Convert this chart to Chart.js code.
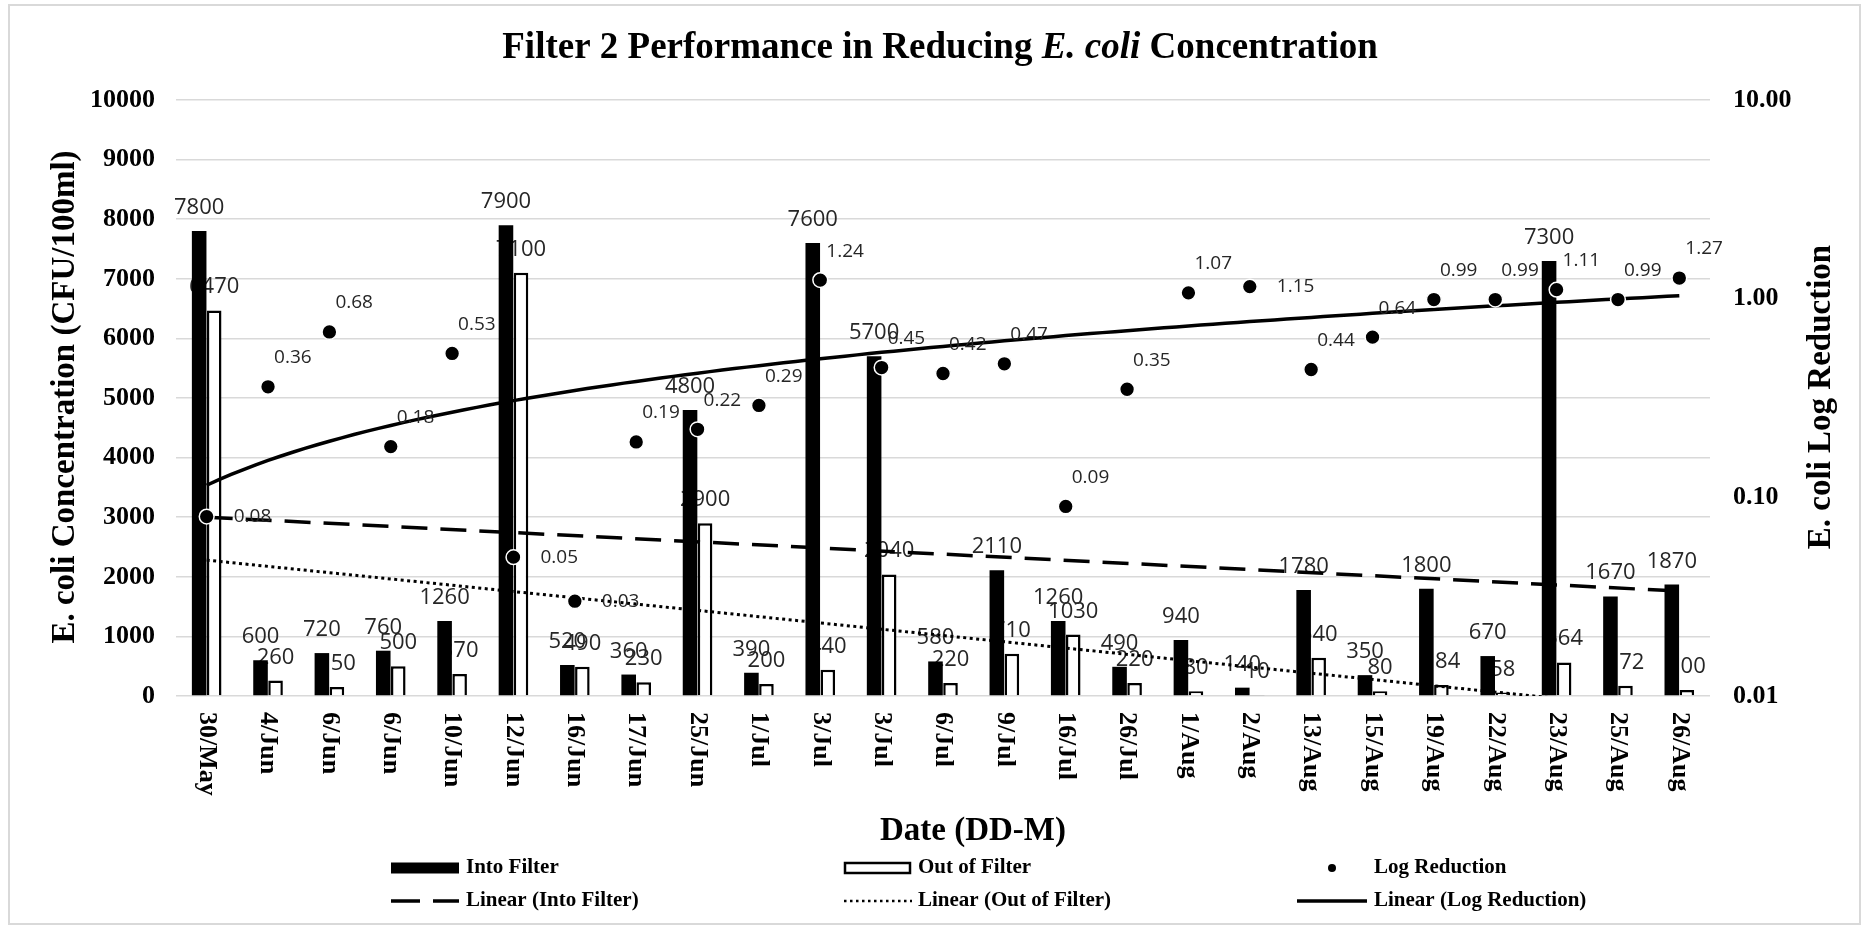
<!DOCTYPE html>
<html lang="en">
<head>
    <meta charset="UTF-8">
    <title>Filter 2 Performance in Reducing E. coli Concentration</title>
    <script src="https://cdn.jsdelivr.net/npm/chart.js@4.4.1/dist/chart.umd.min.js"></script>
    <style>
        html, body { margin: 0; padding: 0; background: #fff; }
    </style>
</head>
<body>
<canvas id="myChart" width="1870" height="930"></canvas>

<script>
    var dates = ['30/May', '4/Jun', '6/Jun', '6/Jun', '10/Jun', '12/Jun', '16/Jun', '17/Jun', '25/Jun', '1/Jul',
        '3/Jul', '3/Jul', '6/Jul', '9/Jul', '16/Jul', '26/Jul', '1/Aug', '2/Aug', '13/Aug', '15/Aug',
        '19/Aug', '22/Aug', '23/Aug', '25/Aug', '26/Aug'];
    var intoFilter = [7800, 600, 720, 760, 1260, 7900, 520, 360, 4800, 390,
        7600, 5700, 580, 2110, 1260, 490, 940, 140, 1780, 350,
        1800, 670, 7300, 1670, 1870];
    var outOfFilter = [6470, 260, 150, 500, 370, 7100, 490, 230, 2900, 200,
        440, 2040, 220, 710, 1030, 220, 80, 10, 640, 80,
        184, 58, 564, 172, 100];
    var logReduction = [0.08, 0.36, 0.68, 0.18, 0.53, 0.05, 0.03, 0.19, 0.22, 0.29,
        1.24, 0.45, 0.42, 0.47, 0.09, 0.35, 1.07, 1.15, 0.44, 0.64,
        0.99, 0.99, 1.11, 0.99, 1.27];
    // trendline values at the first and the last date
    var intoTrend = [3000, 1760];
    var outTrend = [2280, -250];
    var logTrend = [0.115, 1.035];
    var logTicks = [0.01, 0.1, 1, 10];

    // log labels that sit to the right of the dot instead of above it
    var rightLabels = [0, 5, 6, 17];

    var SERIF = '"Liberation Serif", "Times New Roman", serif';
    var SANS = '"Open Sans", "Noto Sans", sans-serif';

    function ends(pair) {
        return dates.map(function (d, i) {
            if (i === 0) return pair[0];
            if (i === dates.length - 1) return pair[1];
            return null;
        });
    }

    var extras = {
        id: 'extras',
        beforeDraw: function (chart) {
            var ctx = chart.ctx;
            ctx.save();
            ctx.fillStyle = '#fff';
            ctx.fillRect(0, 0, chart.width, chart.height);
            ctx.strokeStyle = '#d9d9d9';
            ctx.lineWidth = 2;
            ctx.strokeRect(9, 5, 1851, 919);
            ctx.restore();
        },
        beforeDatasetDraw: function (chart, args) {
            if (args.index !== 2) return;
            // linear trend of log reduction, drawn on the log axis
            var ctx = chart.ctx, xs = chart.scales.x, ys = chart.scales.y2, a = chart.chartArea;
            var x0 = xs.getPixelForValue(0), x1 = xs.getPixelForValue(dates.length - 1);
            ctx.save();
            ctx.beginPath();
            ctx.rect(a.left, a.top, a.width, a.height);
            ctx.clip();
            ctx.beginPath();
            for (var s = 0; s <= 120; s++) {
                var t = s / 120;
                var px = x0 + (x1 - x0) * t;
                var py = ys.getPixelForValue(logTrend[0] + (logTrend[1] - logTrend[0]) * t);
                if (s === 0) ctx.moveTo(px, py); else ctx.lineTo(px, py);
            }
            ctx.lineWidth = 3.5;
            ctx.strokeStyle = '#000';
            ctx.stroke();
            ctx.restore();
        },
        afterDatasetDraw: function (chart, args) {
            var ctx = chart.ctx, meta = args.meta;
            ctx.save();
            ctx.fillStyle = '#262626';
            if (args.index === 0 || args.index === 1) {
                var vals = args.index === 0 ? intoFilter : outOfFilter;
                ctx.font = '22px ' + SANS;
                ctx.textAlign = 'center';
                ctx.textBaseline = 'alphabetic';
                meta.data.forEach(function (el, i) {
                    ctx.fillText(String(vals[i]), el.x, el.y - 17);
                });
            } else if (args.index === 2) {
                ctx.font = '19px ' + SANS;
                ctx.textAlign = 'left';
                ctx.textBaseline = 'middle';
                meta.data.forEach(function (el, i) {
                    var txt = logReduction[i].toFixed(2);
                    if (rightLabels.indexOf(i) >= 0) ctx.fillText(txt, el.x + 27, el.y);
                    else ctx.fillText(txt, el.x + 6, el.y - 29);
                });
            }
            ctx.restore();
        },
        afterDraw: function (chart) {
            var ctx = chart.ctx, a = chart.chartArea, xs = chart.scales.x;
            ctx.save();
            ctx.fillStyle = '#000';

            // title with italic E. coli
            var parts = [['Filter 2 Performance in Reducing ', 'bold'], ['E. coli', 'italic bold'], [' Concentration', 'bold']];
            var total = 0;
            parts.forEach(function (p) { ctx.font = p[1] + ' 37px ' + SERIF; p.push(ctx.measureText(p[0]).width); total += p[2]; });
            var tx = 940 - total / 2;
            ctx.textAlign = 'left';
            ctx.textBaseline = 'middle';
            parts.forEach(function (p) { ctx.font = p[1] + ' 37px ' + SERIF; ctx.fillText(p[0], tx, 48); tx += p[2]; });

            // axis titles
            ctx.font = 'bold 33px ' + SERIF;
            ctx.textAlign = 'center';
            [[65, 'E. coli Concentration (CFU/100ml)'], [1821, 'E. coli Log Reduction']].forEach(function (t) {
                ctx.save();
                ctx.translate(t[0], 397);
                ctx.rotate(-Math.PI / 2);
                ctx.fillText(t[1], 0, 0);
                ctx.restore();
            });
            ctx.fillText('Date (DD-M)', 973, 831);

            // date labels, rotated clockwise
            ctx.font = 'bold 26px ' + SERIF;
            ctx.textAlign = 'left';
            dates.forEach(function (d, i) {
                ctx.save();
                ctx.translate(xs.getPixelForValue(i), a.bottom + 16);
                ctx.rotate(Math.PI / 2);
                ctx.fillText(d, 0, 0);
                ctx.restore();
            });

            // legend
            var r1 = 868, r2 = 901;
            ctx.fillRect(391, r1 - 5.5, 68, 11);
            ctx.fillStyle = '#fff';
            ctx.strokeStyle = '#000';
            ctx.lineWidth = 2.5;
            ctx.fillRect(845, r1 - 5, 65, 10);
            ctx.strokeRect(845, r1 - 5, 65, 10);
            ctx.fillStyle = '#000';
            ctx.beginPath();
            ctx.arc(1332, r1, 4, 0, Math.PI * 2);
            ctx.fill();

            ctx.lineWidth = 3.5;
            ctx.setLineDash([29, 13]);
            ctx.beginPath(); ctx.moveTo(391, r2); ctx.lineTo(459, r2); ctx.stroke();
            ctx.lineWidth = 2.5;
            ctx.setLineDash([2.5, 3.5]);
            ctx.beginPath(); ctx.moveTo(844, r2); ctx.lineTo(912, r2); ctx.stroke();
            ctx.lineWidth = 3.5;
            ctx.setLineDash([]);
            ctx.beginPath(); ctx.moveTo(1297, r2); ctx.lineTo(1367, r2); ctx.stroke();

            ctx.font = 'bold 21px ' + SERIF;
            ctx.textBaseline = 'middle';
            ctx.fillText(chart.data.datasets[0].label, 466, r1);
            ctx.fillText(chart.data.datasets[1].label, 918, r1);
            ctx.fillText(chart.data.datasets[2].label, 1374, r1);
            ctx.fillText(chart.data.datasets[3].label, 466, r2);
            ctx.fillText(chart.data.datasets[4].label, 918, r2);
            ctx.fillText('Linear (Log Reduction)', 1374, r2);
            ctx.restore();
        }
    };

    var ctx = document.getElementById('myChart').getContext('2d');
    var myChart = new Chart(ctx, {
        type: 'bar',
        data: {
            labels: dates,
            datasets: [
                {
                    label: 'Into Filter',
                    data: intoFilter,
                    backgroundColor: '#000',
                    borderWidth: 0,
                    categoryPercentage: 0.49,
                    barPercentage: 0.97,
                    order: 5
                },
                {
                    label: 'Out of Filter',
                    data: outOfFilter,
                    backgroundColor: '#fff',
                    borderColor: '#000',
                    borderWidth: 2.5,
                    categoryPercentage: 0.49,
                    barPercentage: 0.97,
                    order: 6
                },
                {
                    type: 'line',
                    label: 'Log Reduction',
                    data: logReduction,
                    yAxisID: 'y2',
                    showLine: false,
                    pointRadius: 7.4,
                    pointBackgroundColor: '#000',
                    pointBorderColor: '#fff',
                    pointBorderWidth: 1.5,
                    order: 1
                },
                {
                    type: 'line',
                    label: 'Linear (Into Filter)',
                    data: ends(intoTrend),
                    spanGaps: true,
                    borderColor: '#000',
                    borderWidth: 3.5,
                    borderDash: [26, 13],
                    pointRadius: 0,
                    order: 3
                },
                {
                    type: 'line',
                    label: 'Linear (Out of Filter)',
                    data: ends(outTrend),
                    spanGaps: true,
                    borderColor: '#000',
                    borderWidth: 3,
                    borderDash: [3, 3.5],
                    pointRadius: 0,
                    order: 3
                }
            ]
        },
        options: {
            responsive: false,
            animation: false,
            devicePixelRatio: 1,
            layout: { padding: { top: 100, left: 0, right: 0, bottom: 0 } },
            plugins: {
                legend: { display: false },
                title: { display: false },
                tooltip: { enabled: false }
            },
            scales: {
                x: {
                    offset: true,
                    grid: { display: false },
                    border: { display: false },
                    ticks: { display: false },
                    afterFit: function (s) { s.height = 234; }
                },
                y: {
                    position: 'left',
                    min: 0,
                    max: 10000,
                    ticks: {
                        stepSize: 1000,
                        padding: 21,
                        color: '#000',
                        font: { family: SERIF, size: 26, weight: 'bold' },
                        callback: function (v) { return String(v); }
                    },
                    grid: { color: '#d9d9d9', lineWidth: 1.5, drawTicks: false },
                    border: { display: false },
                    afterFit: function (s) { s.width = 176; }
                },
                y2: {
                    type: 'logarithmic',
                    position: 'right',
                    min: 0.01,
                    max: 10,
                    afterBuildTicks: function (s) {
                        s.ticks = logTicks.map(function (v) { return { value: v }; });
                    },
                    ticks: {
                        padding: 23,
                        color: '#000',
                        font: { family: SERIF, size: 26, weight: 'bold' },
                        callback: function (v) { return Number(v).toFixed(2); }
                    },
                    grid: { display: false, drawTicks: false },
                    border: { display: false },
                    afterFit: function (s) { s.width = 160; }
                }
            }
        },
        plugins: [extras]
    });
</script>
</body>
</html>
